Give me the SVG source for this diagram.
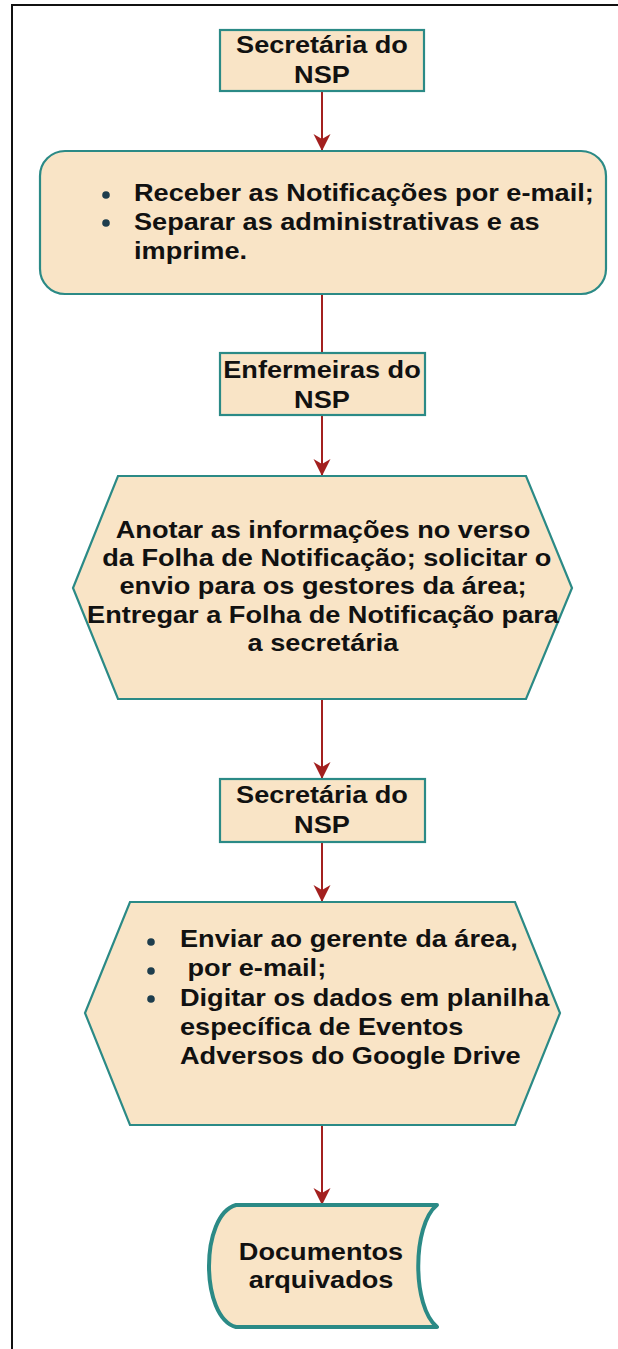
<svg xmlns="http://www.w3.org/2000/svg" width="618" height="1349" viewBox="0 0 618 1349">
<defs>
<style>
.shape{fill:#F9E4C6;stroke:#2B8A86;stroke-width:2.2}
.doc{fill:#F9E4C6;stroke:#2B8A86;stroke-width:4;stroke-linejoin:round}
.t{font-family:"Liberation Sans",Arial,sans-serif;font-weight:bold;font-size:23px;fill:#111}
.c{text-anchor:middle}
.bul{fill:#1E3D4D}
.con{stroke:#A3201F;stroke-width:2;fill:none}
</style>
<marker id="ah" viewBox="-18 -10 20 20" markerWidth="20" markerHeight="20" refX="0" refY="0" orient="auto" markerUnits="userSpaceOnUse">
<path d="M0,0 L-17,-8.5 L-12,0 L-17,8.5 Z" fill="#A3201F"/>
</marker>
</defs>
<rect x="12" y="5" width="640" height="1380" fill="#fff" stroke="#111" stroke-width="2"/>

<g id="connectors">
<line class="con" x1="322" y1="91" x2="322" y2="151" marker-end="url(#ah)"/>
<line class="con" x1="322" y1="294" x2="322" y2="353"/>
<line class="con" x1="322" y1="415" x2="322" y2="476" marker-end="url(#ah)"/>
<line class="con" x1="322" y1="699" x2="322" y2="779" marker-end="url(#ah)"/>
<line class="con" x1="322" y1="842" x2="322" y2="902" marker-end="url(#ah)"/>
<line class="con" x1="322" y1="1125" x2="322" y2="1205" marker-end="url(#ah)"/>
</g>

<g id="n1">
<rect class="shape" x="220" y="30" width="204" height="61"/>
<g transform="translate(322 0) scale(1.18 1)">
<text class="t c" x="0" y="53">Secretária do</text>
<text class="t c" x="0" y="83">NSP</text>
</g>
</g>

<g id="n2">
<rect class="shape" x="40" y="151" width="566" height="143" rx="25"/>
<circle class="bul" cx="106" cy="195" r="3.8"/>
<circle class="bul" cx="106" cy="223" r="3.8"/>
<g transform="translate(134 0) scale(1.18 1)">
<text class="t" x="0" y="201.5">Receber as Notificações por e-mail;</text>
<text class="t" x="0" y="230.5">Separar as administrativas e as</text>
<text class="t" x="0" y="259">imprime.</text>
</g>
</g>

<g id="n3">
<rect class="shape" x="220" y="353" width="205" height="62"/>
<g transform="translate(322 0) scale(1.18 1)">
<text class="t c" x="0" y="378">Enfermeiras do</text>
<text class="t c" x="0" y="408">NSP</text>
</g>
</g>

<g id="n4">
<polygon class="shape" points="118,476 526,476 572,588 526,699 118,699 73,588"/>
<g transform="translate(323 0) scale(1.18 1)">
<text class="t c" x="0" y="538">Anotar as informações no verso</text>
<text class="t c" x="0" y="566" xml:space="preserve"> da Folha de Notificação; solicitar o</text>
<text class="t c" x="0" y="594">envio para os gestores da área;</text>
<text class="t c" x="0" y="623">Entregar a Folha de Notificação para</text>
<text class="t c" x="0" y="651">a secretária</text>
</g>
</g>

<g id="n5">
<rect class="shape" x="220" y="779" width="205" height="63"/>
<g transform="translate(322 0) scale(1.18 1)">
<text class="t c" x="0" y="803">Secretária do</text>
<text class="t c" x="0" y="833">NSP</text>
</g>
</g>

<g id="n6">
<polygon class="shape" points="130,902 515,902 560,1013 515,1125 130,1125 85,1013"/>
<circle class="bul" cx="151" cy="942" r="3.8"/>
<circle class="bul" cx="151" cy="971" r="3.8"/>
<circle class="bul" cx="151" cy="999" r="3.8"/>
<g transform="translate(180 0) scale(1.18 1)">
<text class="t" x="0" y="947">Enviar ao gerente da área,</text>
<text class="t" x="0" y="976" xml:space="preserve"> por e-mail;</text>
<text class="t" x="0" y="1006">Digitar os dados em planilha</text>
<text class="t" x="0" y="1035">específica de Eventos</text>
<text class="t" x="0" y="1064">Adversos do Google Drive</text>
</g>
</g>

<g id="n7">
<path class="doc" d="M236,1205 L437,1205 C412,1225 412,1307 437,1327 L236,1327 C200,1317 200,1215 236,1205 Z"/>
<g transform="translate(321 0) scale(1.18 1)">
<text class="t c" x="0" y="1260">Documentos</text>
<text class="t c" x="0" y="1288">arquivados</text>
</g>
</g>
</svg>
